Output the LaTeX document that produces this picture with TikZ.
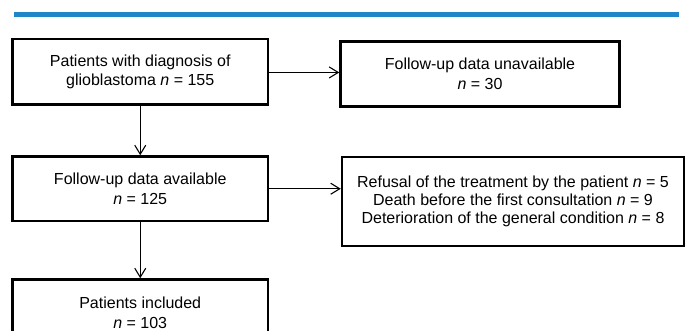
\documentclass[tikz,border=0pt]{standalone}
\usepackage{fontspec}
\setmainfont{Liberation Sans}
\usetikzlibrary{arrows.meta}
\definecolor{barblue}{RGB}{31,134,200}
\tikzset{
  box/.style={draw=black, line width=2.5pt, inner sep=0pt, align=center,
    font=\fontsize{16}{19.5}\selectfont},
  conn/.style={draw=black, line width=1.1pt, -{Straight Barb[length=9pt,width=11pt,line width=1.1pt]}}
}
\begin{document}
\begin{tikzpicture}[x=1pt,y=-1pt]
\useasboundingbox (0,0) rectangle (686,331);
\fill[barblue] (14,12) rectangle (679,17.3);
\node[box, minimum width=255.5pt, minimum height=65.7pt] (b1) at (140.25,71.85)
  {Patients with diagnosis of\\glioblastoma \textit{n} = 155};
\node[box, minimum width=279pt, minimum height=65pt] (b2) at (480,74)
  {Follow-up data unavailable\\\textit{n} = 30};
\node[box, minimum width=255.5pt, minimum height=64.5pt] (b3) at (140.25,188.75)
  {Follow-up data available\\\textit{n} = 125};
\node[box, minimum width=342pt, minimum height=89pt, font=\fontsize{16}{18.3}\selectfont] (b4) at (513,201.5)
  {Refusal of the treatment by the patient \textit{n} = 5\\Death before the first consultation \textit{n} = 9\\Deterioration of the general condition \textit{n} = 8};
\node[box, minimum width=255.5pt, minimum height=66.5pt] (b5) at (140.25,312.75)
  {Patients included\\\textit{n} = 103};
\coordinate (a1) at ([yshift=-0.6pt]b1.east);
\draw[conn] (a1) -- (a1 -| b2.west);
\draw[conn] (b3.east) -- (b3.east -| b4.west);
\draw[conn] (b1.south) -- (b3.north);
\draw[conn] (b3.south) -- (b5.north);
\end{tikzpicture}
\end{document}
